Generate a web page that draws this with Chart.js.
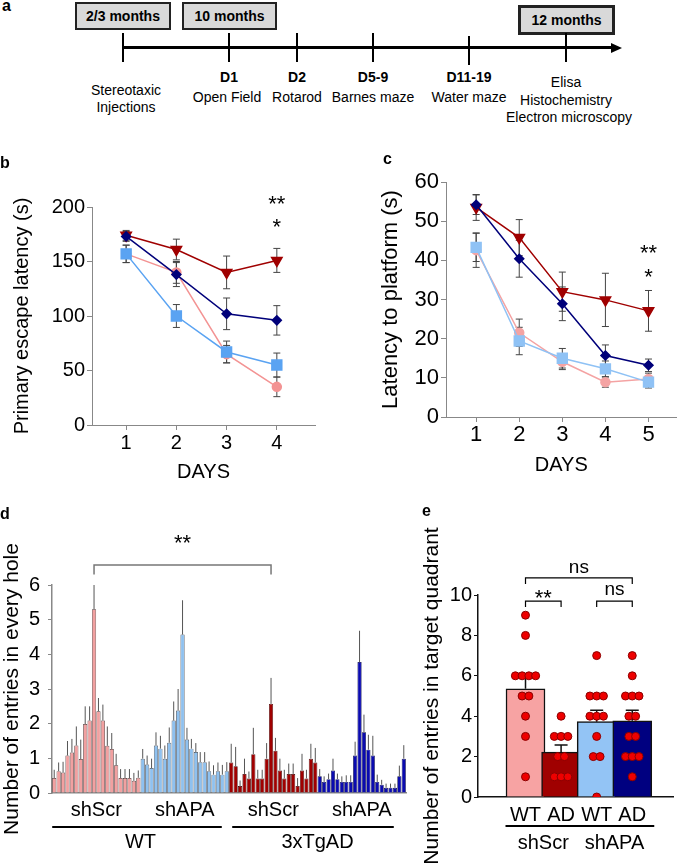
<!DOCTYPE html>
<html>
<head>
<meta charset="utf-8">
<script src="https://cdn.jsdelivr.net/npm/chart.js@4.4.1/dist/chart.umd.min.js"></script>
<style>
  html, body { margin: 0; padding: 0; background: #fff; }
  #fig { position: relative; width: 685px; height: 864px; overflow: hidden;
         font-family: "Liberation Sans", Arial, Helvetica, sans-serif; color: #000; }
  canvas { position: absolute; }
  .panel { position: absolute; font-weight: bold; font-size: 16px; line-height: 16px; z-index: 2; }
  .tl-line { position: absolute; background: #000; }
  .tl-head { position: absolute; width: 0; height: 0; border-left: 11px solid #000;
             border-top: 5px solid transparent; border-bottom: 5px solid transparent; }
  .tl-tick { position: absolute; width: 2px; background: #000; }
  .box { position: absolute; box-sizing: border-box; background: #d9d9d9; border: 2px solid #222;
         font-weight: bold; font-size: 14px; display: flex; align-items: center; justify-content: center; }
  .tl-txt { position: absolute; font-size: 14px; line-height: 16px; white-space: nowrap; transform: translateX(-50%); }
  .tl-txt b { font-weight: bold; }
</style>
</head>
<body>
<div id="fig">
  <div class="panel" style="left:2px;top:-2px">a</div>
  <div class="panel" style="left:0px;top:155px">b</div>
  <div class="panel" style="left:383px;top:151px">c</div>
  <div class="panel" style="left:0px;top:506px">d</div>
  <div class="panel" style="left:422px;top:503px">e</div>

  <!-- timeline (panel a) -->
  <div class="box" style="left:75px;top:2px;width:96px;height:28px">2/3 months</div>
  <div class="box" style="left:182px;top:2px;width:95px;height:28px">10 months</div>
  <div class="box" style="left:518px;top:5px;width:97px;height:30px;border-width:3px">12 months</div>
  <div class="tl-line" style="left:123px;top:46px;width:490px;height:3px"></div>
  <div class="tl-head" style="left:611px;top:42.5px"></div>
  <div class="tl-tick" style="left:122px;top:33px;height:29px"></div>
  <div class="tl-tick" style="left:228px;top:33px;height:29px"></div>
  <div class="tl-tick" style="left:296px;top:33px;height:29px"></div>
  <div class="tl-tick" style="left:372px;top:33px;height:29px"></div>
  <div class="tl-tick" style="left:468px;top:36px;height:29px"></div>
  <div class="tl-tick" style="left:565px;top:33px;height:29px"></div>
  <div class="tl-txt" style="left:126px;top:82px">Stereotaxic</div>
  <div class="tl-txt" style="left:126px;top:99px">Injections</div>
  <div class="tl-txt" style="left:229px;top:69px"><b>D1</b></div>
  <div class="tl-txt" style="left:227px;top:89px">Open Field</div>
  <div class="tl-txt" style="left:297px;top:69px"><b>D2</b></div>
  <div class="tl-txt" style="left:297px;top:89px">Rotarod</div>
  <div class="tl-txt" style="left:373px;top:69px"><b>D5-9</b></div>
  <div class="tl-txt" style="left:373px;top:89px">Barnes maze</div>
  <div class="tl-txt" style="left:469px;top:69px"><b>D11-19</b></div>
  <div class="tl-txt" style="left:469px;top:89px">Water maze</div>
  <div class="tl-txt" style="left:566px;top:74px">Elisa</div>
  <div class="tl-txt" style="left:566px;top:92px">Histochemistry</div>
  <div class="tl-txt" style="left:569px;top:109px">Electron microscopy</div>

  <canvas id="chartB" width="335" height="340" style="left:0px;top:150px"></canvas>
  <canvas id="chartC" width="345" height="340" style="left:340px;top:150px"></canvas>
  <canvas id="chartD" width="420" height="364" style="left:0px;top:500px"></canvas>
  <canvas id="chartE" width="265" height="364" style="left:420px;top:500px"></canvas>
</div>
<script>
// ---- panel b: Barnes maze, primary escape latency (s)
const bDays = [1, 2, 3, 4];
const bWtShScr = [157, 140, 65, 35];
const bWtShScrErr = [8, 10, 8, 9];
const bWtShApa = [157, 100, 67, 55];
const bWtShApaErr = [8, 10.5, 10, 11];
const bAdShScr = [174, 161, 140, 151];
const bAdShScrErr = [4.5, 9.5, 15, 11];
const bAdShApa = [173, 138, 102, 96];
const bAdShApaErr = [4.5, 11, 14.5, 13.5];

// ---- panel c: water maze, latency to platform (s)
const cDays = [1, 2, 3, 4, 5];
const cWtShScr = [42.6, 21.5, 14.1, 8.9, 9.7];
const cWtShScrErr = [4.4, 3.5, 2, 1.3, 1.5];
const cWtShApa = [43.3, 19.4, 15.0, 12.3, 8.9];
const cWtShApaErr = [3.6, 3.5, 2.5, 2.0, 1.5];
const cAdShScr = [53.5, 45.8, 32.0, 29.9, 27.1];
const cAdShScrErr = [3.3, 4.6, 5, 6.8, 5.2];
const cAdShApa = [54.2, 40.4, 28.9, 15.7, 13.2];
const cAdShApaErr = [2.5, 4.7, 4.3, 2.7, 1.6];

// ---- panel d: entries in every hole (20 holes per group)
const dHoles = Array.from({ length: 20 }, (_, i) => i + 1);
const dWtShScr = [0.43, 0.63, 0.59, 1.08, 1.17, 1.37, 0.98, 1.99, 2.09, 5.3, 2.36, 2.09, 1.36, 1.27, 0.8, 0.43, 0.43, 0.43, 0.35, 0.44];
const dWtShScrErr = [0.24, 0.25, 0.31, 0.42, 0.39, 0.55, 0.56, 0.51, 0.41, 0.7, 0.38, 0.46, 0.56, 0.46, 0.33, 0.26, 0.26, 0.26, 0.23, 0.21];
const dWtShApa = [0.99, 0.82, 0.72, 1.37, 1.28, 0.99, 1.45, 2.09, 2.38, 4.57, 1.54, 1.28, 1.18, 0.89, 0.89, 0.63, 0.53, 0.63, 0.53, 0.63];
const dWtShApaErr = [0.28, 0.26, 0.27, 0.38, 0.37, 0.38, 0.44, 0.55, 0.62, 0.99, 0.34, 0.28, 0.26, 0.29, 0.29, 0.28, 0.27, 0.25, 0.28, 0.26];
const dAdShScr = [0.88, 0.77, 0.2, 0.55, 0.42, 1.12, 0.42, 0.42, 0.99, 2.57, 1.22, 0.65, 0.42, 0.55, 0.55, 0.2, 0.65, 0.42, 0.99, 0.88];
const dAdShScrErr = [0.54, 0.56, 0.16, 0.44, 0.2, 0.76, 0.25, 0.25, 0.45, 0.75, 0.37, 0.34, 0.25, 0.3, 0.3, 0.23, 0.48, 0.25, 0.43, 0.42];
const dAdShApa = [0.48, 0.32, 0.4, 0.65, 0.4, 0.32, 0.32, 0.32, 1.08, 3.78, 1.75, 1.25, 1.08, 0.32, 0.24, 0.15, 0.15, 0.15, 0.48, 0.99];
const dAdShApaErr = [0.21, 0.16, 0.16, 0.34, 0.16, 0.16, 0.19, 0.19, 0.4, 0.9, 0.51, 0.43, 0.57, 0.21, 0.14, 0.12, 0.12, 0.12, 0.31, 0.39];

// ---- panel e: entries in target quadrant
const eGroups = ['WT', 'AD', 'WT', 'AD'];
const eMeans = [5.36, 2.22, 3.73, 3.77];
const eSem = [0.58, 0.35, 0.57, 0.53];
const eWtShScr = [9, 8, 6, 6, 6, 6, 5, 5, 4, 3, 1];
const eAdShScr = [4, 3, 3, 3, 2, 2, 1, 1, 1];
const eWtShApa = [7, 5, 5, 5, 4, 4, 4, 3, 2, 2, 0];
const eAdShApa = [7, 6, 5, 5, 5, 4, 4, 3, 3, 2, 2, 2, 1];

const FONT = '"Liberation Sans", Arial, Helvetica, sans-serif';
Chart.defaults.font.family = FONT;
Chart.defaults.color = '#000';
Chart.defaults.animation = false;

// error bars drawn from a custom "errors" array on each dataset
function drawErrors(chart, index, opts) {
  const ds = chart.data.datasets[index];
  if (!ds.errors) return;
  const meta = chart.getDatasetMeta(index);
  const ys = chart.scales.y, ctx = chart.ctx;
  const cap = opts.cap || 0;
  ctx.save();
  ctx.strokeStyle = opts.color || '#333';
  ctx.lineWidth = opts.width || 1;
  meta.data.forEach((el, j) => {
    const raw = ds.data[j];
    const v = (raw !== null && typeof raw === 'object') ? raw.y : raw;
    const err = ds.errors[j];
    if (v == null || err == null) return;
    const top = ys.getPixelForValue(v + err);
    const bot = opts.upOnly ? ys.getPixelForValue(v) : ys.getPixelForValue(v - err);
    ctx.beginPath();
    ctx.moveTo(el.x, bot);
    ctx.lineTo(el.x, top);
    if (cap) {
      ctx.moveTo(el.x - cap, top); ctx.lineTo(el.x + cap, top);
      if (!opts.upOnly) { ctx.moveTo(el.x - cap, bot); ctx.lineTo(el.x + cap, bot); }
    }
    ctx.stroke();
  });
  ctx.restore();
}

const errorBars = {
  id: 'errorBars',
  beforeDatasetsDraw(chart, args, opts) {
    if (!opts.behind) return;
    chart.data.datasets.forEach((ds, i) => drawErrors(chart, i, opts));
  },
  afterDatasetDraw(chart, args, opts) {
    if (opts.behind) return;
    drawErrors(chart, args.index, opts);
  }
};

// stars, brackets and group labels under the axis
const notes = {
  id: 'notes',
  afterDraw(chart, args, opts) {
    const items = opts.items;
    if (!items) return;
    const ctx = chart.ctx, xs = chart.scales.x, ys = chart.scales.y;
    const base = chart.chartArea.bottom;
    items.forEach(it => {
      ctx.save();
      ctx.strokeStyle = it.color || '#000';
      ctx.fillStyle = '#000';
      ctx.lineWidth = it.lineWidth || 1.5;
      ctx.font = (it.size || 20) + 'px ' + FONT;
      ctx.textAlign = 'center';
      if (it.type === 'text') {
        ctx.textBaseline = 'alphabetic';
        ctx.fillText(it.text, xs.getPixelForValue(it.x), ys.getPixelForValue(it.y));
      } else if (it.type === 'bracket') {
        const x1 = xs.getPixelForValue(it.x1), x2 = xs.getPixelForValue(it.x2);
        const y = ys.getPixelForValue(it.y), yd = ys.getPixelForValue(it.y - it.drop);
        ctx.beginPath();
        ctx.moveTo(x1, yd); ctx.lineTo(x1, y); ctx.lineTo(x2, y); ctx.lineTo(x2, yd);
        ctx.stroke();
      } else if (it.type === 'label') {
        ctx.textBaseline = 'middle';
        const cx = (xs.getPixelForValue(it.from) + xs.getPixelForValue(it.to)) / 2;
        ctx.fillText(it.text, cx, base + it.dy);
      } else if (it.type === 'rule') {
        ctx.beginPath();
        ctx.moveTo(xs.getPixelForValue(it.from) + it.padL, base + it.dy);
        ctx.lineTo(xs.getPixelForValue(it.to) + it.padR, base + it.dy);
        ctx.stroke();
      }
      ctx.restore();
    });
  }
};
Chart.register(errorBars, notes);

const pts = (xs, ys) => xs.map((x, i) => ({ x: x, y: ys[i] }));

function lineSet(label, days, vals, errs, color, style, radius, rotation) {
  return {
    label: label,
    data: pts(days, vals),
    errors: errs,
    borderColor: color,
    backgroundColor: color,
    borderWidth: 1.5,
    pointStyle: style,
    pointRadius: radius,
    pointRotation: rotation || 0,
    pointBackgroundColor: color,
    pointBorderColor: color,
    tension: 0
  };
}

const grayAxis = {
  grid: { drawOnChartArea: false, tickLength: 5, color: '#888' },
  border: { color: '#888', width: 1 }
};

// ---------- b ----------
new Chart(document.getElementById('chartB'), {
  type: 'line',
  data: {
    datasets: [
      lineSet('WT shAPA', bDays, bWtShApa, bWtShApaErr, '#5aa3f2', 'rect', 7),
      lineSet('3xTgAD shAPA', bDays, bAdShApa, bAdShApaErr, '#00007a', 'rectRot', 4.5),
      lineSet('WT shScr', bDays, bWtShScr, bWtShScrErr, '#f39393', 'circle', 4.5),
      lineSet('3xTgAD shScr', bDays, bAdShScr, bAdShScrErr, '#a00000', 'triangle', 6, 180)
    ]
  },
  options: {
    responsive: false,
    layout: { padding: { top: 57, right: 20, left: 0, bottom: 0 } },
    plugins: {
      legend: { display: false },
      tooltip: { enabled: false },
      errorBars: { behind: true, color: '#444', width: 1, cap: 3.5 },
      notes: {
        items: [
          { type: 'text', text: '**', x: 4, y: 196.5, size: 22 },
          { type: 'text', text: '*', x: 4, y: 175.4, size: 22 }
        ]
      }
    },
    scales: {
      x: {
        type: 'linear', min: 0.32, max: 4.76,
        afterBuildTicks: s => { s.ticks = bDays.map(v => ({ value: v })); },
        afterFit: s => { s.height = 65; },
        ...grayAxis,
        ticks: { font: { size: 20 }, padding: 1 },
        title: { display: true, text: 'DAYS', font: { size: 20 }, padding: { top: 0, bottom: 6 } }
      },
      y: {
        min: 0, max: 200,
        afterFit: s => { s.width = 92; },
        ...grayAxis,
        ticks: { stepSize: 50, font: { size: 20 }, padding: 2 },
        title: { display: true, text: 'Primary escape latency (s)', font: { size: 20 }, padding: { top: 10, bottom: 0 } }
      }
    }
  }
});

// ---------- c ----------
new Chart(document.getElementById('chartC'), {
  type: 'line',
  data: {
    datasets: [
      lineSet('WT shAPA', cDays, cWtShApa, cWtShApaErr, '#8fc2f5', 'rect', 7),
      lineSet('WT shScr', cDays, cWtShScr, cWtShScrErr, '#f4a3a3', 'circle', 4.5),
      lineSet('3xTgAD shAPA', cDays, cAdShApa, cAdShApaErr, '#00007a', 'rectRot', 4.5),
      lineSet('3xTgAD shScr', cDays, cAdShScr, cAdShScrErr, '#a00000', 'triangle', 6, 180)
    ]
  },
  options: {
    responsive: false,
    layout: { padding: { top: 32, right: 2, left: 0, bottom: 0 } },
    plugins: {
      legend: { display: false },
      tooltip: { enabled: false },
      errorBars: { behind: true, color: '#444', width: 1, cap: 3.5 },
      notes: {
        items: [
          { type: 'text', text: '**', x: 5, y: 40.1, size: 22 },
          { type: 'text', text: '*', x: 5, y: 34.0, size: 22 }
        ]
      }
    },
    scales: {
      x: {
        type: 'linear', min: 0.3, max: 5.65,
        afterBuildTicks: s => { s.ticks = cDays.map(v => ({ value: v })); },
        afterFit: s => { s.height = 73; },
        ...grayAxis,
        ticks: { font: { size: 22 }, padding: 0 },
        title: { display: true, text: 'DAYS', font: { size: 20 }, padding: { top: 0, bottom: 13 } }
      },
      y: {
        min: 0, max: 60,
        afterFit: s => { s.width = 106; },
        ...grayAxis,
        ticks: { stepSize: 10, font: { size: 22 }, padding: 2 },
        title: { display: true, text: 'Latency to platform (s)', font: { size: 22 }, padding: { top: 38, bottom: 0 } }
      }
    }
  }
});

// ---------- d ----------
const dGroupKeys = ['wtShScr', 'wtShApa', 'adShScr', 'adShApa'];
const dLabels = dGroupKeys.flatMap(g => dHoles.map(h => g + '-' + h));
function holeSet(key, vals, errs, fill, edge) {
  return {
    data: dHoles.map((h, i) => ({ x: key + '-' + h, y: vals[i] })),
    errors: errs,
    backgroundColor: fill,
    borderColor: edge,
    borderWidth: 0.7,
    grouped: false,
    barPercentage: 0.94,
    categoryPercentage: 1
  };
}
const peak = arr => arr.indexOf(Math.max(...arr));
const dLeft = peak(dWtShScr);
const dRight = 40 + peak(dAdShScr);

new Chart(document.getElementById('chartD'), {
  type: 'bar',
  data: {
    labels: dLabels,
    datasets: [
      holeSet('wtShScr', dWtShScr, dWtShScrErr, '#f2a0a0', '#4a3030'),
      holeSet('wtShApa', dWtShApa, dWtShApaErr, '#8ec1f0', '#333b45'),
      holeSet('adShScr', dAdShScr, dAdShScrErr, '#a00000', '#3a0000'),
      holeSet('adShApa', dAdShApa, dAdShApaErr, '#0a0ab0', '#000040')
    ]
  },
  options: {
    responsive: false,
    layout: { padding: { top: 85, right: 14, left: 0, bottom: 0 } },
    plugins: {
      legend: { display: false },
      tooltip: { enabled: false },
      errorBars: { behind: false, color: '#555', width: 1, upOnly: true },
      notes: {
        items: [
          { type: 'bracket', x1: dLeft, x2: dRight, y: 6.58, drop: 0.28, color: '#777', lineWidth: 1.5 },
          { type: 'text', text: '**', x: (dLeft + dRight) / 2, y: 7.0, size: 22 },
          { type: 'label', from: 0, to: 19, text: 'shScr', dy: 17 },
          { type: 'label', from: 20, to: 39, text: 'shAPA', dy: 17 },
          { type: 'label', from: 40, to: 59, text: 'shScr', dy: 17 },
          { type: 'label', from: 60, to: 79, text: 'shAPA', dy: 17 },
          { type: 'rule', from: 0, to: 39, dy: 34, padL: -2, padR: -5, lineWidth: 2 },
          { type: 'rule', from: 40, to: 79, dy: 34, padL: 1, padR: -10, lineWidth: 2 },
          { type: 'label', from: 0, to: 39, text: 'WT', dy: 49 },
          { type: 'label', from: 40, to: 79, text: '3xTgAD', dy: 49 }
        ]
      }
    },
    scales: {
      x: {
        type: 'category',
        afterFit: s => { s.height = 71; },
        ticks: { display: false },
        grid: { display: false, drawTicks: false },
        border: { color: '#888', width: 1.5 }
      },
      y: {
        min: 0, max: 6,
        afterFit: s => { s.width = 52; },
        grid: { drawOnChartArea: false, tickLength: 4, color: '#888' },
        border: { color: '#888', width: 1.5 },
        ticks: { stepSize: 1, font: { size: 20 }, padding: 8 },
        title: { display: true, text: 'Number of entries in every hole', font: { size: 21 }, padding: { top: 0, bottom: 0 } }
      }
    }
  }
});

// ---------- e ----------
function swarm(values, center, step) {
  const counts = {}, seen = {};
  values.forEach(v => { counts[v] = (counts[v] || 0) + 1; });
  return values.map(v => {
    seen[v] = (seen[v] === undefined ? 0 : seen[v] + 1);
    return { x: center + (seen[v] - (counts[v] - 1) / 2) * step, y: v };
  });
}
const eDots = [eWtShScr, eAdShScr, eWtShApa, eAdShApa].flatMap((vals, i) => swarm(vals, i + 1, 0.19));

new Chart(document.getElementById('chartE'), {
  type: 'bar',
  data: {
    datasets: [
      {
        type: 'scatter',
        data: eDots,
        order: 0,
        pointRadius: 4,
        pointBackgroundColor: '#ee0000',
        pointBorderColor: '#8a0000',
        pointBorderWidth: 1
      },
      {
        type: 'bar',
        data: pts([1, 2, 3, 4], eMeans),
        errors: eSem,
        order: 1,
        barThickness: 39,
        backgroundColor: ['#f7a3a3', '#a00000', '#93c4f5', '#000080'],
        borderColor: '#111',
        borderWidth: 1.5
      }
    ]
  },
  options: {
    responsive: false,
    layout: { padding: { top: 95, right: 12, left: 0, bottom: 0 } },
    plugins: {
      legend: { display: false },
      tooltip: { enabled: false },
      errorBars: { behind: false, color: '#111', width: 1.5, cap: 6.5, upOnly: true },
      notes: {
        items: [
          { type: 'bracket', x1: 1, x2: 2, y: 9.7, drop: 0.3, lineWidth: 1.2 },
          { type: 'text', text: '**', x: 1.5, y: 9.5, size: 22 },
          { type: 'bracket', x1: 3, x2: 4, y: 9.7, drop: 0.3, lineWidth: 1.2 },
          { type: 'text', text: 'ns', x: 3.5, y: 10.0, size: 19 },
          { type: 'bracket', x1: 1, x2: 4, y: 10.85, drop: 0.3, lineWidth: 1.2 },
          { type: 'text', text: 'ns', x: 2.5, y: 11.1, size: 19 },
          { type: 'rule', from: 1, to: 2, dy: 29, padL: -20, padR: 22, lineWidth: 2 },
          { type: 'rule', from: 3, to: 4, dy: 29, padL: -18, padR: 22, lineWidth: 2 },
          { type: 'label', from: 1, to: 2, text: 'shScr', dy: 46 },
          { type: 'label', from: 3, to: 4, text: 'shAPA', dy: 46 }
        ]
      }
    },
    scales: {
      x: {
        type: 'linear', min: 0.35, max: 4.46,
        afterBuildTicks: s => { s.ticks = eGroups.map((g, i) => ({ value: i + 1 })); },
        afterFit: s => { s.height = 67; },
        grid: { display: false, drawTicks: false },
        border: { color: '#111', width: 1.5 },
        ticks: { font: { size: 20 }, padding: 6, callback: v => eGroups[v - 1] || '' }
      },
      y: {
        min: 0, max: 10,
        afterFit: s => { s.width = 58; },
        grid: { drawOnChartArea: false, tickLength: 4, color: '#111' },
        border: { color: '#111', width: 1.5 },
        ticks: { stepSize: 2, font: { size: 20 }, padding: 2 },
        title: { display: true, text: 'Number of entries in target quadrant', font: { size: 21 }, padding: { top: 0, bottom: 0 } }
      }
    }
  }
});
</script>
</body>
</html>
